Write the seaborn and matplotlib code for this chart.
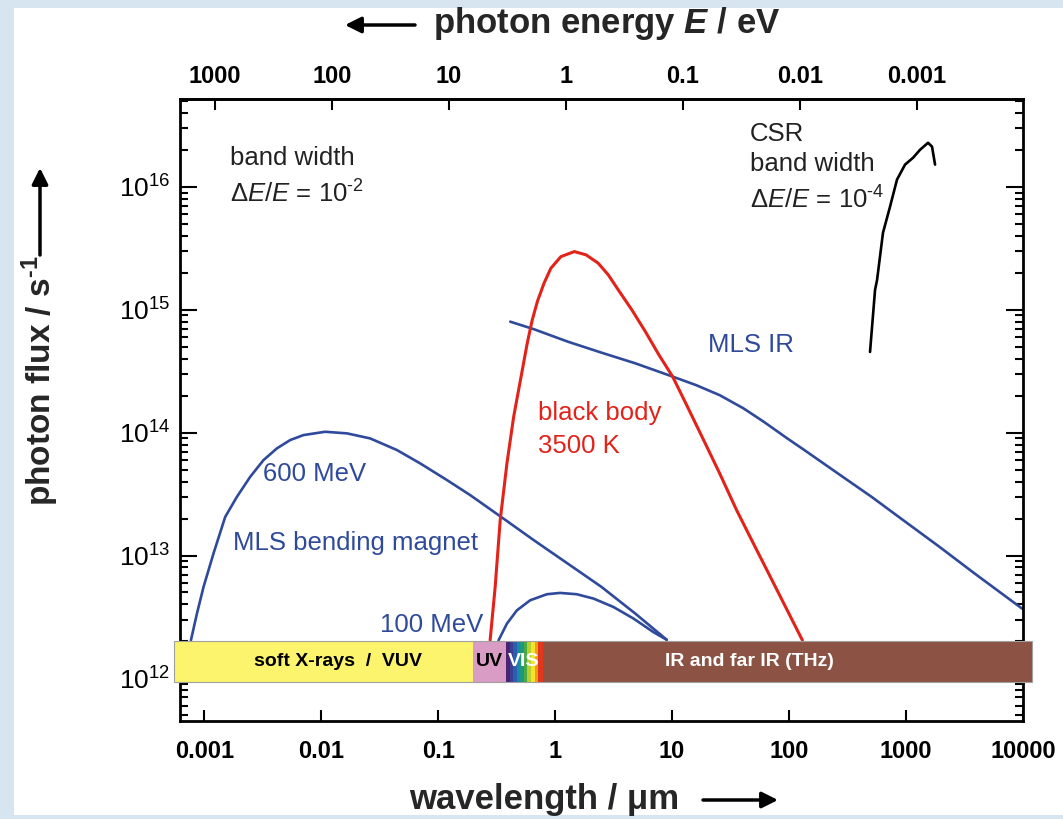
import matplotlib
matplotlib.use("Agg")
import matplotlib.pyplot as plt
import matplotlib.ticker as mticker
from matplotlib.patches import Rectangle
import numpy as np
import seaborn as sns

# wavelength in um, photon flux in 1/s
bm600_wl = [7.69e-4, 8.66e-4, 9.86e-4, 1.20e-3, 1.51e-3, 1.90e-3, 2.47e-3, 3.21e-3,
            4.18e-3, 5.43e-3, 7.06e-3, 1.08e-2, 1.66e-2, 2.62e-2, 4.44e-2, 7.02e-2,
            0.119, 0.188, 0.361, 0.659, 1.28, 2.49, 4.84, 9.0]
bm600_flux = [2.04e12, 3.37e12, 5.55e12, 1.04e13, 2.06e13, 3.0e13, 4.37e13, 5.98e13,
              7.45e13, 8.71e13, 9.56e13, 1.017e14, 9.87e13, 8.98e13, 7.22e13, 5.62e13,
              4.11e13, 3.10e13, 2.0e13, 1.33e13, 8.6e12, 5.55e12, 3.37e12, 2.06e12]

bm100_wl = [0.328, 0.387, 0.471, 0.611, 0.849, 1.10, 1.53, 2.13, 3.15, 4.67, 6.92, 9.0]
bm100_flux = [2.04e12, 2.79e12, 3.58e12, 4.32e12, 4.84e12, 4.96e12, 4.84e12, 4.46e12,
              3.81e12, 3.07e12, 2.38e12, 2.06e12]

bb_wl = [0.278, 0.307, 0.339, 0.387, 0.442, 0.505, 0.577, 0.637, 0.705, 0.804, 0.919,
         1.12, 1.46, 1.84, 2.33, 2.84, 3.47, 4.53, 5.91, 7.72, 10.1, 13.1, 18.3, 25.5,
         35.6, 49.6, 69.2, 96.5, 130]
bb_flux = [2.04e12, 5.55e12, 1.94e13, 5.62e13, 1.35e14, 2.68e14, 5.34e14, 8.27e14,
           1.17e15, 1.65e15, 2.18e15, 2.71e15, 2.98e15, 2.80e15, 2.40e15, 1.93e15,
           1.45e15, 9.98e14, 6.64e14, 4.29e14, 2.86e14, 1.73e14, 8.98e13, 4.66e13,
           2.34e13, 1.25e13, 6.69e12, 3.58e12, 2.04e12]

ir_wl = [0.413, 0.659, 1.28, 2.49, 4.84, 10.1, 16.0, 25.5, 40.6, 60.5, 96.5, 135,
         261, 508, 988, 1922, 3737, 9806]
ir_flux = [8.01e14, 6.95e14, 5.51e14, 4.48e14, 3.67e14, 2.86e14, 2.44e14, 2.02e14,
           1.58e14, 1.23e14, 8.98e13, 7.22e13, 4.66e13, 3.0e13, 1.88e13, 1.18e13,
           7.3e12, 3.70e12]

csr_wl = [492, 543, 565, 635, 729, 837, 980, 1148, 1318, 1542, 1667, 1770]
csr_flux = [4.54e14, 1.45e15, 1.75e15, 4.24e15, 6.9e15, 1.15e16, 1.52e16,
            1.73e16, 2.01e16, 2.29e16, 2.13e16, 1.52e16]

# spectral ranges of the band at the bottom
band_edges = [5.55e-4, 0.2, 0.38, 0.78, 1.19e4]
band_names = ["soft X-rays  /  VUV", "UV", "VIS", "IR and far IR (THz)"]
vis_edges = [0.38, 0.41, 0.44, 0.47, 0.50, 0.54, 0.58, 0.62, 0.67, 0.72, 0.78]
vis_colors = ["#4a2470", "#3a3d94", "#2a5fae", "#1b86b0", "#1a9a7a", "#4aa845",
              "#b8cf2e", "#f3e32a", "#f39a1e", "#e2361d"]

wl_ticks = [0.001, 0.01, 0.1, 1, 10, 100, 1000, 10000]
wl_labels = ["0.001", "0.01", "0.1", "1", "10", "100", "1000", "10000"]
e_ticks = [1000, 100, 10, 1, 0.1, 0.01, 0.001]
e_labels = ["1000", "100", "10", "1", "0.1", "0.01", "0.001"]
flux_ticks = [1e12, 1e13, 1e14, 1e15, 1e16]
flux_labels = [r"$10^{12}$", r"$10^{13}$", r"$10^{14}$", r"$10^{15}$", r"$10^{16}$"]

blue = "#2f4a9a"
red = "#e2231a"

sns.set_theme(style="ticks")
plt.rcParams["font.family"] = ["Liberation Sans", "DejaVu Sans"]
plt.rcParams["mathtext.fontset"] = "custom"
plt.rcParams["mathtext.rm"] = "Liberation Sans"
plt.rcParams["mathtext.it"] = "Liberation Sans:italic"
plt.rcParams["mathtext.bf"] = "Liberation Sans:italic:bold"
plt.rcParams["mathtext.default"] = "regular"

fig = plt.figure(figsize=(10.63, 8.19), dpi=100)
fig.patch.set_facecolor("#d6e5ef")
fig.patches.append(Rectangle((0.013, 0.005), 0.987, 0.985, transform=fig.transFigure,
                             facecolor="white", edgecolor="none", zorder=-1))
ax = fig.add_axes([0.1693, 0.1197, 0.7931, 0.7594])
ax.set_facecolor("white")
ax.set_xscale("log")
ax.set_yscale("log")

sns.lineplot(x=bm600_wl, y=bm600_flux, ax=ax, color=blue, lw=1.9, sort=False, estimator=None)
sns.lineplot(x=bm100_wl, y=bm100_flux, ax=ax, color=blue, lw=1.9, sort=False, estimator=None)
sns.lineplot(x=ir_wl, y=ir_flux, ax=ax, color=blue, lw=1.9, sort=False, estimator=None)
sns.lineplot(x=bb_wl, y=bb_flux, ax=ax, color=red, lw=2.2, sort=False, estimator=None)
sns.lineplot(x=csr_wl, y=csr_flux, ax=ax, color="black", lw=1.9, sort=False, estimator=None)

ax.set_xlim(6.2e-4, 1.0e4)
ax.set_ylim(4.5e11, 5.2e16)

# spectral band
band_lo, band_hi = 9.3e11, 2.0e12
band_colors = ["#fbf46c", "#d99cc5", None, "#8c5243"]
for i, c in enumerate(band_colors):
    if c is None:
        continue
    ax.add_patch(Rectangle((band_edges[i], band_lo), band_edges[i + 1] - band_edges[i],
                           band_hi - band_lo, facecolor=c, edgecolor="none",
                           clip_on=False, zorder=5))
for i, c in enumerate(vis_colors):
    ax.add_patch(Rectangle((vis_edges[i], band_lo), vis_edges[i + 1] - vis_edges[i],
                           band_hi - band_lo, facecolor=c, edgecolor="none",
                           clip_on=False, zorder=5))
ax.add_patch(Rectangle((band_edges[0], band_lo), band_edges[-1] - band_edges[0],
                       band_hi - band_lo, facecolor="none", edgecolor="#a0a0a0",
                       lw=0.8, clip_on=False, zorder=5.5))
band_mid = np.sqrt(band_lo * band_hi)
ax.text(0.0140, band_mid, band_names[0], ha="center", va="center", fontsize=14,
        fontweight="bold", color="black", zorder=6)
ax.text(0.274, band_mid, band_names[1], ha="center", va="center", fontsize=14,
        fontweight="bold", color="black", zorder=6)
ax.text(0.535, band_mid, band_names[2], ha="center", va="center", fontsize=14,
        fontweight="bold", color="white", zorder=6)
ax.text(45.5, band_mid, band_names[3], ha="center", va="center", fontsize=14,
        fontweight="bold", color="white", zorder=6)

# annotations
fs = 18.5
ax.text(1.67e-3, 1.52e16, "band width", fontsize=fs, color="#222222", va="baseline")
ax.text(1.67e-3, 7.43e15, "Δ$\\mathit{E}$/$\\mathit{E}$ = 10$^{\u20102}$", fontsize=fs,
        color="#222222", va="baseline")
ax.text(46.4, 2.38e16, "CSR", fontsize=fs, color="#222222", va="baseline")
ax.text(46.4, 1.36e16, "band width", fontsize=fs, color="#222222", va="baseline")
ax.text(46.4, 6.64e15, "Δ$\\mathit{E}$/$\\mathit{E}$ = 10$^{\u20104}$", fontsize=fs,
        color="#222222", va="baseline")
ax.text(3.19e-3, 4.04e13, "600 MeV", fontsize=fs, color=blue, va="baseline")
ax.text(1.77e-3, 1.1e13, "MLS bending magnet", fontsize=fs, color=blue, va="baseline")
ax.text(0.0319, 2.37e12, "100 MeV", fontsize=fs, color=blue, va="baseline")
ax.text(20.3, 4.54e14, "MLS IR", fontsize=fs, color=blue, va="baseline")
ax.text(0.716, 1.27e14, "black body", fontsize=fs, color=red, va="baseline")
ax.text(0.716, 6.82e13, "3500 K", fontsize=fs, color=red, va="baseline")

# ticks
ax.set_xticks(wl_ticks, labels=wl_labels, fontweight="bold")
ax.xaxis.set_minor_locator(mticker.NullLocator())
ax.set_yticks(flux_ticks, labels=flux_labels)
ax.yaxis.set_minor_locator(mticker.LogLocator(base=10, subs=np.arange(2, 10), numticks=20))
ax.yaxis.set_minor_formatter(mticker.NullFormatter())
ax.tick_params(axis="x", which="major", direction="in", length=8, width=1.5,
               pad=14, labelsize=17, colors="black", top=False)
ax.tick_params(axis="y", which="both", direction="in", left=True, right=True,
               width=1.5, labelsize=19, pad=7, colors="black")
ax.tick_params(axis="y", which="major", length=12)
ax.tick_params(axis="y", which="minor", length=6)
for s in ax.spines.values():
    s.set_linewidth(2)
    s.set_color("black")
    s.set_visible(True)


def to_energy(x):
    x = np.asarray(x, dtype=float)
    with np.errstate(divide="ignore"):
        return 1.23984 / x


secax = ax.secondary_xaxis("top", functions=(to_energy, to_energy))
secax.set_xticks(e_ticks, labels=e_labels, fontweight="bold")
secax.xaxis.set_minor_locator(mticker.NullLocator())
secax.tick_params(direction="in", length=8, width=1.5, pad=8, labelsize=17, colors="black")
secax.spines["top"].set_linewidth(2)

# axis titles with arrows
fig.text(544 / 1063, 1 - 800 / 819, "wavelength / μm", ha="center", va="center",
         fontsize=25, fontweight="bold")
fig.text(607 / 1063, 1 - 24 / 819, r"photon energy $\mathbf{E}$ / eV", ha="center",
         va="center", fontsize=25, fontweight="bold")
fig.text(40 / 1063, 1 - 381 / 819, "photon flux / s$^{\u20101}$", ha="center", va="center",
         fontsize=24, fontweight="bold", rotation=90)

arrow = dict(arrowstyle="-|>", lw=2.5, color="black", mutation_scale=24,
             shrinkA=0, shrinkB=0)
for start, end in [((703, 800), (778, 800)), ((415, 25), (345, 25)), ((40, 255), (40, 168))]:
    ax.annotate("", xy=(end[0] / 1063, 1 - end[1] / 819),
                xytext=(start[0] / 1063, 1 - start[1] / 819),
                xycoords="figure fraction", textcoords="figure fraction",
                arrowprops=arrow, annotation_clip=False)

fig.savefig("out.png", dpi=100, facecolor=fig.get_facecolor())
